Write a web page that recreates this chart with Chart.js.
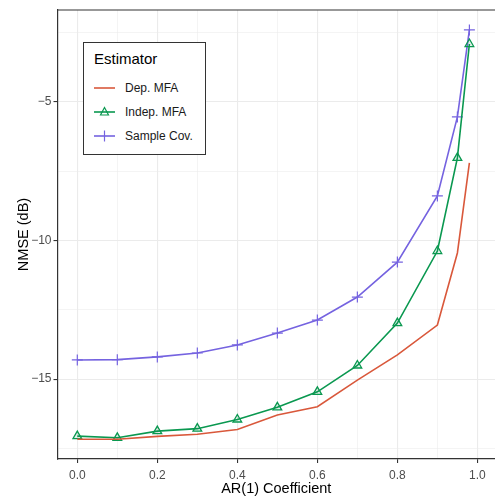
<!DOCTYPE html>
<html lang="en">
<head>
  <meta charset="UTF-8">
  <title>NMSE vs AR(1) Coefficient</title>
  <script src="https://cdn.jsdelivr.net/npm/chart.js"></script>
  <style>
    body {
      margin: 0;
      background: #fff;
      font-family: "Liberation Sans", Arial, sans-serif;
    }
    #wrap {
      position: relative;
      width: 495px;
      height: 498px;
    }
    #legend {
      position: absolute;
      left: 83px;
      top: 42px;
      width: 123px;
      height: 113px;
      border: 1px solid #333;
      background: #fff;
      box-sizing: border-box;
    }
    #legend .title {
      position: absolute;
      left: 10px;
      top: 7px;
      font-size: 15px;
      color: #000;
    }
    #legend .item {
      position: absolute;
      left: 10px;
      height: 20px;
      font-size: 12px;
      color: #1a1a1a;
      display: flex;
      align-items: center;
    }
    #legend svg { margin-right: 10px; }
  </style>
</head>
<body>
<div id="wrap">
  <canvas id="myChart" width="495" height="498"></canvas>
  <div id="legend"></div>
</div>

<script>
// data
const arCoef = [0, 0.1, 0.2, 0.3, 0.4, 0.5, 0.6, 0.7, 0.8, 0.9, 0.95, 0.98];
const depMFA = [-17.17, -17.17, -17.07, -16.99, -16.82, -16.30, -16.00, -15.04, -14.13, -13.05, -10.45, -7.2];
const indepMFA = [-17.06, -17.12, -16.88, -16.79, -16.46, -16.02, -15.46, -14.51, -12.98, -10.38, -7.02, -2.91];
const sampleCov = [-14.31, -14.30, -14.20, -14.06, -13.77, -13.34, -12.87, -12.04, -10.78, -8.39, -5.54, -2.4];

const seriesNames = ['Dep. MFA', 'Indep. MFA', 'Sample Cov.'];
const xTicks = [0, 0.1, 0.2, 0.3, 0.4, 0.5, 0.6, 0.7, 0.8, 0.9, 1.0];
const yTicks = [-17.5, -15, -12.5, -10, -7.5, -5, -2.5];

const colors = ['#D9583B', '#0A9850', '#7563E0'];

const isMajorX = v => Math.abs(Math.round(v * 10) % 2) === 0;
const isMajorY = v => v % 5 === 0;

function pts(ys) {
  return arCoef.map((x, i) => ({ x: x, y: ys[i] }));
}

// top frame line (ggplot panel border)
const frameTop = {
  id: 'frameTop',
  afterDraw(chart) {
    const { ctx, chartArea } = chart;
    ctx.save();
    ctx.strokeStyle = '#333';
    ctx.lineWidth = 1.2;
    ctx.beginPath();
    ctx.moveTo(chartArea.left, chartArea.top);
    ctx.lineTo(chartArea.right, chartArea.top);
    ctx.stroke();
    ctx.restore();
  }
};

const tickFont = { family: '"Liberation Sans", Arial, sans-serif', size: 12 };
const titleFont = { family: '"Liberation Sans", Arial, sans-serif', size: 14.5 };

new Chart(document.getElementById('myChart').getContext('2d'), {
  type: 'line',
  data: {
    datasets: [
      { label: seriesNames[0], data: pts(depMFA), borderColor: colors[0], borderWidth: 1.6,
        pointRadius: 0, pointHoverRadius: 0 },
      { label: seriesNames[1], data: pts(indepMFA), borderColor: colors[1], borderWidth: 1.6,
        pointStyle: 'triangle', pointRadius: 5, pointBorderWidth: 1.3,
        pointBackgroundColor: 'rgba(10,152,80,0.12)', pointBorderColor: colors[1] },
      { label: seriesNames[2], data: pts(sampleCov), borderColor: colors[2], borderWidth: 1.6,
        pointStyle: 'cross', pointRadius: 5.5, pointBorderWidth: 1.2,
        pointBorderColor: colors[2] }
    ]
  },
  options: {
    responsive: false,
    animation: false,
    layout: { autoPadding: false, padding: { top: 10, right: 0, bottom: 0, left: 0 } },
    plugins: {
      legend: { display: false },
      tooltip: { enabled: false }
    },
    scales: {
      x: {
        type: 'linear',
        min: -0.0495,
        max: 1.044,
        afterFit: s => { s.height = 39; s.paddingLeft = 0; s.paddingRight = 0; },
        afterBuildTicks: s => { s.ticks = xTicks.map(v => ({ value: v })); },
        grid: {
          color: '#EBEBEB',
          lineWidth: c => (c.tick && isMajorX(c.tick.value)) ? 1.1 : 0.55,
          tickColor: c => (c.tick && isMajorX(c.tick.value)) ? '#333' : 'rgba(0,0,0,0)',
          tickLength: 4,
          tickWidth: 1.1
        },
        border: { color: '#333', width: 1.2 },
        ticks: {
          color: '#4D4D4D',
          font: tickFont,
          padding: 5,
          maxRotation: 0,
          autoSkip: false,
          callback: v => isMajorX(v) ? v.toFixed(1) : ''
        },
        title: {
          display: true,
          text: 'AR(1) Coefficient',
          color: '#000',
          font: titleFont,
          padding: { top: 0, bottom: 0.5 }
        }
      },
      y: {
        type: 'linear',
        min: -17.885,
        max: -1.682,
        afterFit: s => { s.width = 57.5; },
        afterBuildTicks: s => { s.ticks = yTicks.map(v => ({ value: v })); },
        grid: {
          color: '#EBEBEB',
          lineWidth: c => (c.tick && isMajorY(c.tick.value)) ? 1.1 : 0.55,
          tickColor: c => (c.tick && isMajorY(c.tick.value)) ? '#333' : 'rgba(0,0,0,0)',
          tickLength: 4,
          tickWidth: 1.1
        },
        border: { color: '#333', width: 1.2 },
        ticks: {
          color: '#4D4D4D',
          font: tickFont,
          padding: 2,
          autoSkip: false,
          callback: v => isMajorY(v) ? String(v).replace('-', '\u2212') : ''
        },
        title: {
          display: true,
          text: 'NMSE (dB)',
          color: '#000',
          font: titleFont,
          padding: { top: 15, bottom: 0 }
        }
      }
    }
  },
  plugins: [frameTop]
});

// legend (ggplot style, inside the panel)
const legend = document.getElementById('legend');
const keyMarks = [
  '',
  '<polygon points="10.5,1.5 14.5,9 6.5,9" fill="none" stroke="COL" stroke-width="1.2"/>',
  '<line x1="10.5" y1="0.5" x2="10.5" y2="11.5" stroke="COL" stroke-width="1.2"/>'
];
let html = '<div class="title">Estimator</div>';
seriesNames.forEach((name, i) => {
  const top = [35, 59, 83][i];
  html += '<div class="item" style="top:' + top + 'px">' +
    '<svg width="21" height="12" viewBox="0 0 21 12">' +
    '<line x1="0" y1="6" x2="21" y2="6" stroke="' + colors[i] + '" stroke-width="1.6"/>' +
    keyMarks[i].replace('COL', colors[i]) +
    '</svg>' + name + '</div>';
});
legend.innerHTML = html;
</script>
</body>
</html>
